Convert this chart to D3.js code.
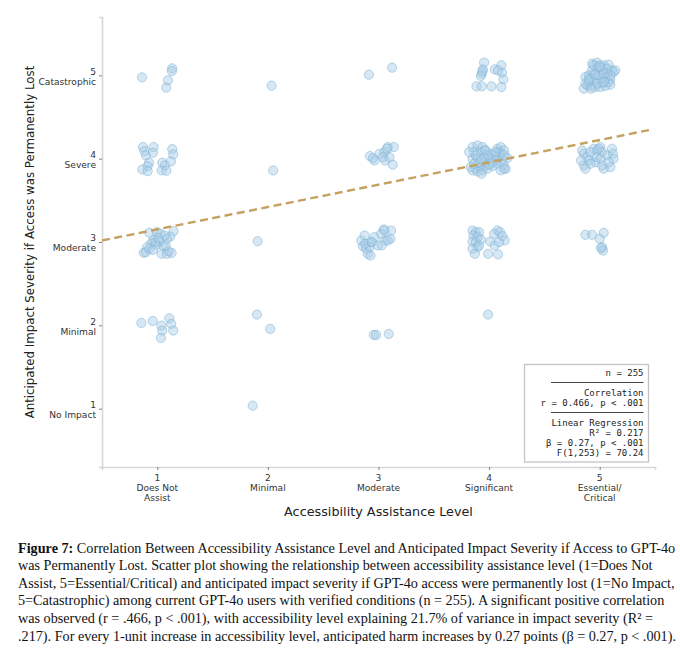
<!DOCTYPE html>
<html>
<head>
<meta charset="utf-8">
<script src="https://cdn.jsdelivr.net/npm/d3@7"></script>
<style>
	body { margin: 0; background: #fff; }
	#chart svg { display: block; }
	.tick-lbl { font-family: "DejaVu Sans", sans-serif; font-size: 9.1px; fill: #333; }
	.ax-title { font-family: "DejaVu Sans", sans-serif; font-size: 12.8px; fill: #222; }
	.ax-title.y { font-size: 11.8px; }
	.stat { font-family: "DejaVu Sans Mono", monospace; font-size: 9px; fill: #222; }
	.cap { font-family: "Liberation Serif", "Times New Roman", serif; font-size: 14.2px; fill: #111; }
</style>
</head>
<body>
<div id="chart"></div>
<script>
document.addEventListener("DOMContentLoaded", main);

// axis categories
var assistLevels = [1, 2, 3, 4, 5];
var assistLabels = ["Does Not\nAssist", "Minimal", "Moderate", "Significant", "Essential/\nCritical"];
var severityLevels = [1, 2, 3, 4, 5];
var severityLabels = ["No Impact", "Minimal", "Moderate", "Severe", "Catastrophic"];

// jittered responses [assistance, severity], one array per assistance level
var doesNotAssist = [
	[0.862, 4.976], [1.135, 5.084], [1.132, 5.052], [1.096, 4.940], [1.081, 4.852],
	[0.871, 4.139], [0.883, 4.091], [0.898, 4.039], [0.967, 4.139], [0.961, 4.071], [0.925, 3.951],
	[0.913, 3.910], [0.865, 3.871], [0.913, 3.850], [1.045, 3.951], [1.069, 3.919], [1.039, 3.859],
	[1.081, 3.855], [1.135, 4.115], [1.144, 4.051], [1.123, 3.967],
	[0.928, 3.111], [0.997, 3.118], [1.027, 3.099], [1.147, 3.130], [1.117, 3.066], [1.087, 3.038],
	[1.066, 3.078], [0.967, 3.026], [0.946, 2.986], [0.907, 2.938], [0.991, 2.970], [1.057, 2.946],
	[0.877, 2.870], [0.895, 2.877], [1.039, 2.858], [1.087, 2.858], [1.129, 2.870], [1.102, 2.889],
	[1.021, 3.010], [0.982, 2.998], [0.928, 2.918], [1.010, 3.050], [0.960, 2.905], [1.075, 2.960],
	[0.856, 2.029], [0.958, 2.053], [1.108, 2.085], [1.036, 1.997], [1.126, 2.017], [1.045, 1.937],
	[1.144, 1.937], [1.033, 1.849]
];
var minimalAssist = [
	[2.033, 4.876], [2.048, 3.859], [1.907, 3.010], [1.901, 2.129], [2.021, 1.957], [1.862, 1.036]
];
var moderateAssist = [
	[2.913, 5.008], [3.123, 5.092],
	[2.922, 4.031], [2.964, 3.979], [3.009, 4.059], [3.054, 4.079], [3.084, 4.139], [3.138, 4.139],
	[3.060, 3.979], [3.129, 3.927], [3.039, 4.019], [2.949, 4.007], [3.099, 4.019], [3.078, 4.120],
	[2.844, 3.018], [2.874, 3.078], [2.859, 2.950], [2.889, 2.918], [2.904, 2.858], [2.928, 2.838],
	[2.934, 2.998], [2.964, 3.058], [2.994, 2.958], [3.024, 3.098], [3.048, 3.150], [3.060, 3.018],
	[3.114, 3.138], [3.108, 3.038], [2.919, 2.938], [3.054, 3.138], [3.084, 3.018], [2.880, 2.978],
	[2.940, 3.000], [3.030, 2.960],
	[2.958, 1.885], [2.979, 1.885], [3.093, 1.897]
];
var significantAssist = [
	[3.955, 5.153], [3.943, 5.072], [3.934, 5.020], [3.925, 4.992], [4.051, 5.072], [4.111, 5.120],
	[4.117, 5.032], [4.129, 4.952], [3.886, 4.868], [3.934, 4.868], [4.021, 4.868], [4.111, 4.859],
	[4.081, 5.060], [3.940, 5.048],
	[3.850, 4.139], [3.895, 4.159], [3.940, 4.139], [3.865, 4.079], [3.925, 4.079], [3.970, 4.099],
	[4.015, 4.059], [4.075, 4.119], [4.105, 4.139], [4.135, 4.099], [4.090, 4.079], [3.850, 3.999],
	[3.895, 4.007], [3.955, 4.019], [4.015, 3.999], [4.060, 3.979], [4.120, 3.991], [4.165, 4.007],
	[3.835, 3.899], [3.880, 3.879], [3.925, 3.899], [3.970, 3.919], [4.030, 3.911], [4.075, 3.939],
	[4.129, 3.927], [4.150, 3.879], [3.850, 3.859], [3.895, 3.847], [3.940, 3.859], [3.985, 3.879],
	[4.030, 3.959], [4.105, 4.059], [3.910, 3.951], [3.865, 3.939], [3.955, 3.959], [4.075, 4.019],
	[4.135, 4.047], [4.105, 3.859], [4.045, 4.039], [3.985, 4.039], [3.880, 4.039], [3.820, 4.079],
	[3.931, 3.819], [4.135, 3.879], [3.960, 4.100], [4.000, 3.930], [4.060, 4.080], [3.930, 3.990],
	[3.850, 3.138], [3.880, 3.118], [3.910, 3.118], [3.859, 3.078], [3.895, 3.058], [3.850, 3.006],
	[3.880, 2.998], [3.925, 3.030], [3.895, 2.938], [3.850, 2.918], [3.871, 2.858], [3.991, 2.858],
	[4.081, 2.850], [4.009, 3.006], [4.051, 2.958], [4.075, 3.138], [4.045, 3.098], [4.099, 3.118],
	[4.120, 3.070], [4.141, 3.018], [4.090, 2.998], [3.910, 2.958],
	[3.991, 2.129]
];
var essentialAssist = [
	[4.931, 5.140], [4.976, 5.152], [5.036, 5.120], [5.081, 5.128], [5.111, 5.060], [5.066, 5.020],
	[5.021, 5.060], [4.976, 5.080], [4.946, 5.020], [4.901, 5.000], [4.871, 4.980], [4.916, 4.960],
	[4.961, 4.940], [5.006, 4.960], [5.051, 4.968], [5.096, 4.952], [4.886, 4.880], [4.856, 4.840],
	[4.916, 4.872], [4.961, 4.860], [5.006, 4.860], [5.051, 4.872], [5.096, 4.888], [5.081, 4.920],
	[4.991, 5.000], [4.931, 5.060], [5.126, 5.040], [5.021, 4.912], [4.976, 4.900], [4.901, 4.920],
	[5.066, 5.080], [4.946, 5.120], [5.036, 5.020], [5.141, 5.060], [4.871, 4.900], [5.000, 5.120],
	[5.096, 5.000], [4.922, 4.840], [4.960, 5.010], [5.040, 4.920], [5.000, 5.100], [4.900, 4.950],
	[4.841, 4.099], [4.856, 4.059], [4.886, 4.019], [4.916, 4.079], [4.946, 4.119], [4.976, 4.099],
	[5.006, 4.139], [5.021, 4.079], [5.066, 4.039], [5.111, 4.119], [5.120, 4.059], [5.126, 3.999],
	[5.096, 3.899], [5.036, 3.879], [5.021, 3.919], [4.961, 3.959], [4.901, 3.979], [4.856, 3.919],
	[4.871, 3.879], [4.916, 3.939], [4.976, 4.019], [5.006, 3.999], [5.081, 3.959], [4.991, 4.119],
	[4.832, 3.979],
	[4.871, 3.086], [4.931, 3.086], [5.000, 3.038], [5.036, 3.110], [5.021, 2.938], [5.030, 2.898],
	[5.012, 2.926]
];

// fitted line y = a + b*x
var regIntercept = 2.884;
var regSlope = 0.268;
var regRange = [0.5, 5.46];

var statLines = ["n = 255", "rule", "Correlation", "r = 0.466, p < .001", "rule",
	"Linear Regression", "R\u00b2 = 0.217", "\u03b2 = 0.27, p < .001", "F(1,253) = 70.24"];

var captionLines = [
	["Figure 7:", " Correlation Between Accessibility Assistance Level and Anticipated Impact Severity if Access to GPT-4o"],
	["", "was Permanently Lost. Scatter plot showing the relationship between accessibility assistance level (1=Does Not"],
	["", "Assist, 5=Essential/Critical) and anticipated impact severity if GPT-4o access were permanently lost (1=No Impact,"],
	["", "5=Catastrophic) among current GPT-4o users with verified conditions (n = 255). A significant positive correlation"],
	["", "was observed (r = .466, p < .001), with accessibility level explaining 21.7% of variance in impact severity (R\u00b2 ="],
	["", ".217). For every 1-unit increase in accessibility level, anticipated harm increases by 0.27 points (\u03b2 = 0.27, p < .001)."]
];

var canvas = {};


function addCanvas(cont) {
	canvas.cont = d3.select(cont);
	canvas.svg = canvas.cont.append("svg")
		.attr("width", 680)
		.attr("height", 655);
	canvas.plot = { left: 102, right: 655, top: 17, bottom: 467 };
}


function drawAxes(x, y) {
	var svg = canvas.svg;
	var p = canvas.plot;

	var xAxis = svg.append("g")
		.attr("transform", "translate(0," + p.bottom + ")")
		.call(d3.axisBottom(x).tickValues(assistLevels).tickSize(3).tickFormat(""));
	var yAxis = svg.append("g")
		.attr("transform", "translate(" + p.left + ",0)")
		.call(d3.axisLeft(y).tickValues(severityLevels).tickSize(3).tickFormat(""));

	[xAxis, yAxis].forEach( (a) => {
		a.select(".domain").attr("stroke", "#d6d6d6").attr("stroke-width", 1.6);
		a.selectAll(".tick line").attr("stroke", "#666").attr("stroke-width", 0.8);
	});

	// two-line tick labels, number first
	assistLevels.forEach( (v, i) => {
		var lines = [String(v)].concat(assistLabels[i].split("\n"));
		var t = svg.append("text")
			.attr("class", "tick-lbl")
			.attr("text-anchor", "middle")
			.attr("x", x(v))
			.attr("y", p.bottom + 14);
		lines.forEach( (l, j) => {
			t.append("tspan").attr("x", x(v)).attr("dy", j ? 10.2 : 0).text(l);
		});
	});

	severityLevels.forEach( (v, i) => {
		var t = svg.append("text")
			.attr("class", "tick-lbl")
			.attr("text-anchor", "end")
			.attr("x", 96)
			.attr("y", y(v) - 0.8);
		t.append("tspan").attr("x", 96).text(String(v));
		t.append("tspan").attr("x", 96).attr("dy", 10.2).text(severityLabels[i]);
	});

	svg.append("text")
		.attr("class", "ax-title")
		.attr("text-anchor", "middle")
		.attr("x", (p.left + p.right) / 2)
		.attr("y", 516)
		.text("Accessibility Assistance Level");

	svg.append("text")
		.attr("class", "ax-title y")
		.attr("text-anchor", "middle")
		.attr("transform", "translate(34," + ((p.top + p.bottom) / 2) + ") rotate(-90)")
		.text("Anticipated Impact Severity if Access was Permanently Lost");
}


function drawPoints(x, y) {
	var all = [].concat(doesNotAssist, minimalAssist, moderateAssist, significantAssist, essentialAssist);

	canvas.svg.append("g")
		.selectAll("circle")
		.data(all)
		.enter()
		.append("circle")
		.attr("cx", (d) => x(d[0]))
		.attr("cy", (d) => y(d[1]))
		.attr("r", 4.6)
		.attr("fill", "#a6cde6")
		.attr("fill-opacity", 0.45)
		.attr("stroke", "#7fb2d6")
		.attr("stroke-opacity", 0.55)
		.attr("stroke-width", 1);
}


function drawRegression(x, y) {
	var line = d3.line()
		.x((d) => x(d))
		.y((d) => y(regIntercept + regSlope * d));

	canvas.svg.append("path")
		.datum(regRange)
		.attr("d", line)
		.attr("fill", "none")
		.attr("stroke", "#c4a15f")
		.attr("stroke-width", 2.4)
		.attr("stroke-dasharray", "8,4.5");
}


function drawStats() {
	var g = canvas.svg.append("g");
	g.append("rect")
		.attr("x", 524.5).attr("y", 364.5)
		.attr("width", 124).attr("height", 97.5)
		.attr("fill", "#fff")
		.attr("stroke", "#c4c4c4")
		.attr("stroke-width", 1.3);

	statLines.forEach( (s, i) => {
		var yy = 376 + i * 10;
		if (s == "rule") {
			g.append("line")
				.attr("x1", 551).attr("x2", 643.5)
				.attr("y1", yy - 3.5).attr("y2", yy - 3.5)
				.attr("stroke", "#444").attr("stroke-width", 1.1);
		} else {
			g.append("text")
				.attr("class", "stat")
				.attr("text-anchor", "end")
				.attr("x", 643.5)
				.attr("y", yy)
				.text(s);
		}
	});
}


function drawCaption() {
	captionLines.forEach( (l, i) => {
		var t = canvas.svg.append("text")
			.attr("class", "cap")
			.attr("x", 18)
			.attr("y", 552.5 + i * 17.6);
		if (l[0]) t.append("tspan").attr("font-weight", "bold").text(l[0]);
		t.append("tspan").text(l[1]);
	});
}


function main() {
	addCanvas("#chart");
	var p = canvas.plot;

	var x = d3.scaleLinear().domain([0.5, 5.5]).range([p.left, p.right]);
	var y = d3.scaleLinear().domain([0.3, 5.7]).range([p.bottom, p.top]);

	drawAxes(x, y);
	drawPoints(x, y);
	drawRegression(x, y);
	drawStats();
	drawCaption();
}
</script>
</body>
</html>
